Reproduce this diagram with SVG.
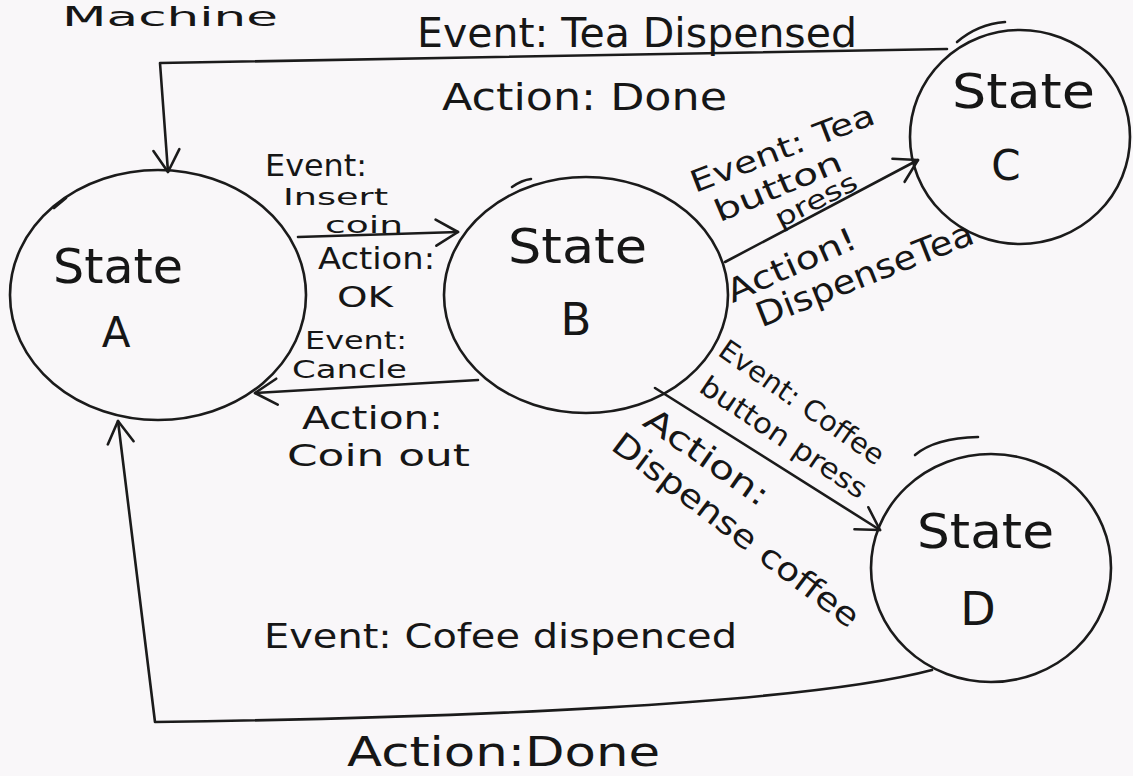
<svg xmlns="http://www.w3.org/2000/svg" width="1133" height="776" viewBox="0 0 1133 776">
  <style>
    .bg{fill:#f9f7f9}
    .st{fill:none;stroke:#1b1b1b;stroke-width:2.6;stroke-linecap:round;stroke-linejoin:round}
    .t{font-family:"DejaVu Sans","Liberation Sans",sans-serif;fill:#161616}
    .m{text-anchor:middle}
  </style>
  <defs>
    <!-- open hand-drawn style arrowhead -->
    <marker id="arr" viewBox="-24 -16 28 32" refX="0" refY="0" markerWidth="28" markerHeight="32" markerUnits="userSpaceOnUse" orient="auto">
      <path d="M-22,-13 L0,0 L-22,13" fill="none" stroke="#1b1b1b" stroke-width="2.6" stroke-linecap="round" stroke-linejoin="round"/>
    </marker>
  </defs>

  <rect class="bg" width="1133" height="776"/>

  <!-- heading at the top edge -->
  <text class="t" x="62" y="25.5" font-size="27" textLength="216" lengthAdjust="spacingAndGlyphs">Machine</text>

  <!-- states -->
  <g id="state-a">
    <ellipse class="st" cx="158" cy="295" rx="148" ry="125"/>
    <path class="st" d="M54,208 L66,198"/>
    <text class="t" x="53" y="283" font-size="48" textLength="130" lengthAdjust="spacingAndGlyphs">State</text>
    <text class="t m" x="116" y="347" font-size="42">A</text>
  </g>
  <g id="state-b">
    <ellipse class="st" cx="586" cy="295" rx="142" ry="118"/>
    <path class="st" d="M512,187 Q522,180 531,179"/>
    <text class="t" x="508" y="263" font-size="48" textLength="139" lengthAdjust="spacingAndGlyphs">State</text>
    <text class="t m" x="576" y="335" font-size="45">B</text>
  </g>
  <g id="state-c">
    <ellipse class="st" cx="1020" cy="137" rx="110" ry="107"/>
    <path class="st" d="M957,42 Q978,24 1005,22"/>
    <text class="t" x="952" y="108" font-size="48" textLength="143" lengthAdjust="spacingAndGlyphs">State</text>
    <text class="t m" x="1006" y="180" font-size="42">C</text>
  </g>
  <g id="state-d">
    <ellipse class="st" cx="991" cy="568" rx="120" ry="114"/>
    <path class="st" d="M915,455 Q935,438 978,437"/>
    <text class="t" x="917" y="548" font-size="48" textLength="137" lengthAdjust="spacingAndGlyphs">State</text>
    <text class="t m" x="978" y="625" font-size="46">D</text>
  </g>

  <!-- transitions -->
  <g id="connectors">
    <path class="st" d="M947,49 L160,63 L168,172" marker-end="url(#arr)"/>
    <path class="st" d="M298,237 L458,232" marker-end="url(#arr)"/>
    <path class="st" d="M478,380 L255,393" marker-end="url(#arr)"/>
    <path class="st" d="M725,262 L918,160" marker-end="url(#arr)"/>
    <path class="st" d="M655,388 L880,530" marker-end="url(#arr)"/>
    <path class="st" d="M932,670 C800,705 450,718 155,722 L118,421" marker-end="url(#arr)"/>
  </g>

  <!-- transition labels -->
  <g id="labels">
    <!-- C to A -->
    <text class="t" x="417" y="47" font-size="40" textLength="440" lengthAdjust="spacingAndGlyphs">Event: Tea Dispensed</text>
    <text class="t" x="442" y="110" font-size="38" textLength="285" lengthAdjust="spacingAndGlyphs">Action: Done</text>

    <!-- A to B -->
    <text class="t" x="265" y="176" font-size="30" textLength="102" lengthAdjust="spacingAndGlyphs">Event:</text>
    <text class="t" x="283" y="205" font-size="23" textLength="105" lengthAdjust="spacingAndGlyphs">Insert</text>
    <text class="t" x="325" y="233" font-size="23" textLength="78" lengthAdjust="spacingAndGlyphs">coin</text>
    <text class="t" x="318" y="269" font-size="30" textLength="117" lengthAdjust="spacingAndGlyphs">Action:</text>
    <text class="t" x="337" y="307" font-size="28" textLength="56" lengthAdjust="spacingAndGlyphs">OK</text>

    <!-- B to A -->
    <text class="t" x="305" y="349" font-size="24" textLength="102" lengthAdjust="spacingAndGlyphs">Event:</text>
    <text class="t" x="292" y="378" font-size="24" textLength="115" lengthAdjust="spacingAndGlyphs">Cancle</text>
    <text class="t" x="302" y="429" font-size="32" textLength="141" lengthAdjust="spacingAndGlyphs">Action:</text>
    <text class="t" x="287" y="466" font-size="30" textLength="183" lengthAdjust="spacingAndGlyphs">Coin out</text>

    <!-- B to C -->
    <g transform="translate(786,158) rotate(-21)"><text class="t m" font-size="30" textLength="195" lengthAdjust="spacingAndGlyphs">Event: Tea</text></g>
    <g transform="translate(782,196) rotate(-23)"><text class="t m" font-size="30" textLength="136" lengthAdjust="spacingAndGlyphs">button</text></g>
    <g transform="translate(820,208) rotate(-27)"><text class="t m" font-size="26" textLength="89" lengthAdjust="spacingAndGlyphs">press</text></g>
    <g transform="translate(796,275) rotate(-24)"><text class="t m" font-size="32" textLength="139" lengthAdjust="spacingAndGlyphs">Action!</text></g>
    <g transform="translate(869,285) rotate(-21.6)"><text class="t m" font-size="34" textLength="231" lengthAdjust="spacingAndGlyphs">DispenseTea</text></g>

    <!-- B to D -->
    <g transform="translate(802,402) rotate(35)"><text class="t m" y="10" font-size="28" textLength="195" lengthAdjust="spacingAndGlyphs">Event: Coffee</text></g>
    <g transform="translate(784,437) rotate(34)"><text class="t m" y="10" font-size="28" textLength="195" lengthAdjust="spacingAndGlyphs">button press</text></g>
    <g transform="translate(707,457) rotate(35)"><text class="t m" y="11" font-size="32" textLength="145" lengthAdjust="spacingAndGlyphs">Action:</text></g>
    <g transform="translate(736,530) rotate(37)"><text class="t m" y="11" font-size="32" textLength="300" lengthAdjust="spacingAndGlyphs">Dispense coffee</text></g>

    <!-- D to A -->
    <text class="t" x="264" y="648" font-size="34" textLength="473" lengthAdjust="spacingAndGlyphs">Event: Cofee dispenced</text>
    <text class="t" x="347" y="766" font-size="40" textLength="313" lengthAdjust="spacingAndGlyphs">Action:Done</text>
  </g>
</svg>
